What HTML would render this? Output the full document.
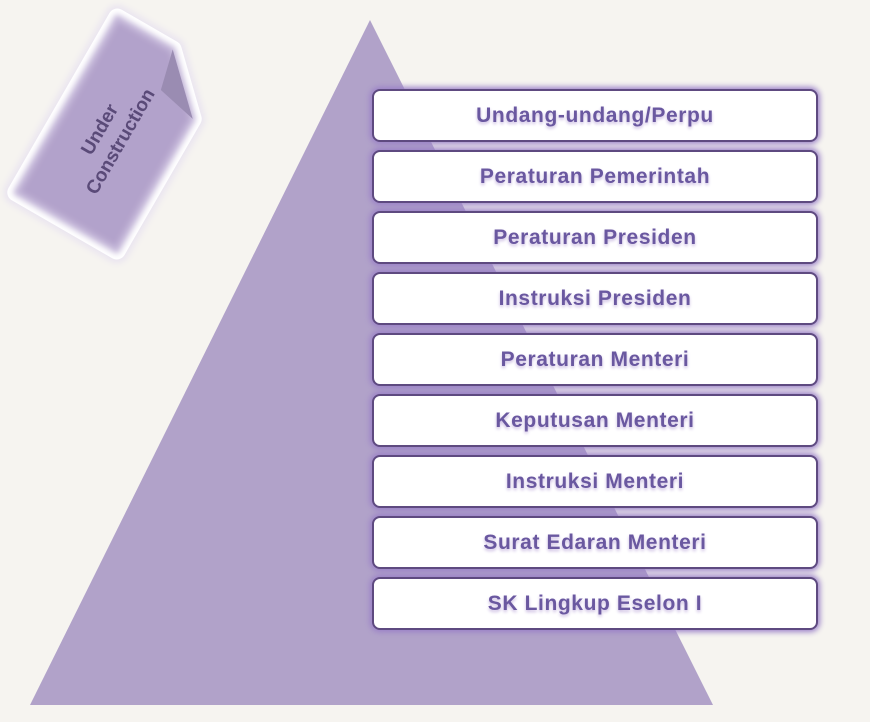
<!DOCTYPE html>
<html><head><style>
body{margin:0;width:870px;height:722px;background:#f6f4f0;position:relative;overflow:hidden;font-family:"Liberation Sans","DejaVu Sans",sans-serif}
.box{position:absolute;left:372px;width:442px;height:49px;background:#fff;border:2px solid #5e4a80;border-radius:8px;box-shadow:0 0 6px 2px #9a80c8;text-align:center;line-height:50px;font-size:21px;font-weight:bold;color:#6a58a0;text-shadow:0 2px 3px #c8b8e0;letter-spacing:0.6px}
.tx{position:absolute;left:26px;top:112px;width:170px;text-align:center;transform:rotate(-60deg);font-size:19px;font-weight:bold;color:#5a4a78;line-height:24px}
</style></head><body>
<svg width="870" height="722" style="position:absolute;left:0;top:0">
<defs><filter id="b" x="-20%" y="-20%" width="140%" height="140%"><feGaussianBlur stdDeviation="3"/></filter></defs>
<polygon points="370,20 30,705 713,705" fill="#b1a2c9"/>
<g transform="translate(117,134) rotate(30)">
<path d="M-58,-101 L6,-101 L58,-51 L58,101 L-58,101 Z" fill="#fff" stroke="#ebe6f0" stroke-width="26" stroke-linejoin="round" filter="url(#b)"/>
<path d="M-58,-101 L6,-101 L58,-51 L58,101 L-58,101 Z" fill="#fff" stroke="#fff" stroke-width="18" stroke-linejoin="round"/>
<path d="M-58,-101 L6,-101 L58,-51 L58,101 L-58,101 Z" fill="#b2a2cb" stroke="#c6b9da" stroke-width="6" stroke-linejoin="round" filter="url(#b)"/>
<path d="M6,-101 L16,-60 L58,-51 Z" fill="#9a8cb2"/>
</g>
</svg>
<div class="tx">Under<br>Construction</div>
<div class="box" style="top:89px">Undang-undang/Perpu</div>
<div class="box" style="top:150px">Peraturan Pemerintah</div>
<div class="box" style="top:211px">Peraturan Presiden</div>
<div class="box" style="top:272px">Instruksi Presiden</div>
<div class="box" style="top:333px">Peraturan Menteri</div>
<div class="box" style="top:394px">Keputusan Menteri</div>
<div class="box" style="top:455px">Instruksi Menteri</div>
<div class="box" style="top:516px">Surat Edaran Menteri</div>
<div class="box" style="top:577px">SK Lingkup Eselon I</div>
</body></html>
